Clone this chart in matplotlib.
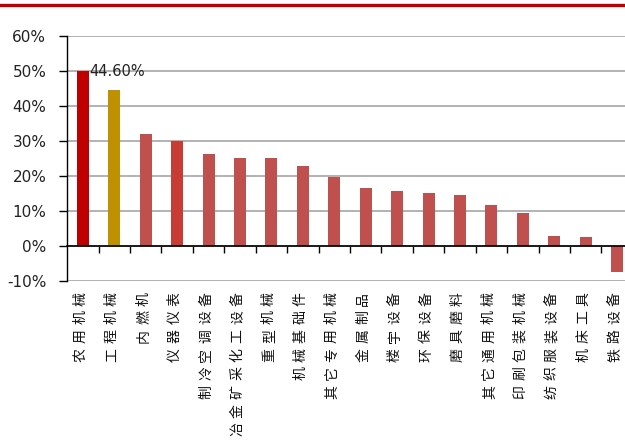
import matplotlib
matplotlib.use("Agg")
import matplotlib.pyplot as plt
from matplotlib.lines import Line2D
from matplotlib.transforms import blended_transform_factory

plt.rcParams["font.family"] = ["Noto Sans CJK SC", "DejaVu Sans"]

# ── Data ──────────────────────────────────────────────────────────────────────
categories = [
    "农用机械", "工程机械", "内燃机", "仪器仪表", "制冷空调设备", "冶金矿采化工设备",
    "重型机械", "机械基础件", "其它专用机械", "金属制品", "楼宇设备", "环保设备",
    "磨具磨料", "其它通用机械", "印刷包装机械", "纺织服装设备", "机床工具", "铁路设备",
]
values = [50.0, 44.6, 31.9, 30.0, 26.3, 25.1, 25.1, 22.8, 19.8, 16.5,
          15.6, 15.2, 14.5, 11.7, 9.3, 2.9, 2.5, -7.3]
bar_colors = ["#C00000", "#BF9000", "#C0504D", "#C93C36"] + ["#C0504D"] * 14
y_ticks = [-10, 0, 10, 20, 30, 40, 50, 60]
annotation = "44.60%"

# ── Figure ────────────────────────────────────────────────────────────────────
fig = plt.figure(figsize=(6.25, 4.48), dpi=100)
ax = fig.add_axes([0.1075, 0.3728, 0.8925, 0.5468])

x = list(range(len(categories)))
ax.bar(x, values, width=0.38, color=bar_colors, zorder=3)

ax.set_ylim(-10, 60)
ax.set_xlim(-0.5, 17.25)
ax.set_yticks(y_ticks)
ax.set_yticklabels([f"{t}%" for t in y_ticks], fontsize=11, family="DejaVu Sans",
                   color="#222222")
ax.yaxis.grid(True, color="#A6A6A6", linewidth=1.2, zorder=0)

for side in ("top", "right"):
    ax.spines[side].set_visible(False)
ax.spines["left"].set_color("black")
ax.spines["left"].set_linewidth(1.0)
ax.spines["bottom"].set_position(("data", 0))
ax.spines["bottom"].set_color("black")
ax.spines["bottom"].set_linewidth(1.2)
ax.spines["bottom"].set_zorder(4)

ax.set_xticks([i + 0.5 for i in x[:-1]])
ax.set_xticklabels([])
ax.tick_params(axis="x", direction="out", length=5, width=1, color="black")
ax.tick_params(axis="y", direction="out", length=6, width=1, color="black", pad=9)

# rotated category labels (read bottom to top), one glyph at a time so the
# character pitch stays even; the last character sits at the top
trans = blended_transform_factory(ax.transData, ax.transAxes)
pitch = 13.4  # points between characters
for i, name in enumerate(categories):
    for k, ch in enumerate(reversed(name)):
        ax.annotate(ch, xy=(i - 0.08, -0.045), xycoords=trans,
                    xytext=(0, -k * pitch), textcoords="offset points",
                    rotation=90, ha="center", va="top", fontsize=10,
                    color="#111111", annotation_clip=False)

ax.text(0.2, 50, annotation, ha="left", va="center", fontsize=10.5,
        family="DejaVu Sans", color="#222222", zorder=5)

# red rule at top
fig.add_artist(Line2D([0, 1], [0.988, 0.988], transform=fig.transFigure,
                      color="#C00000", linewidth=2.4))

fig.savefig("out.png", dpi=100)
